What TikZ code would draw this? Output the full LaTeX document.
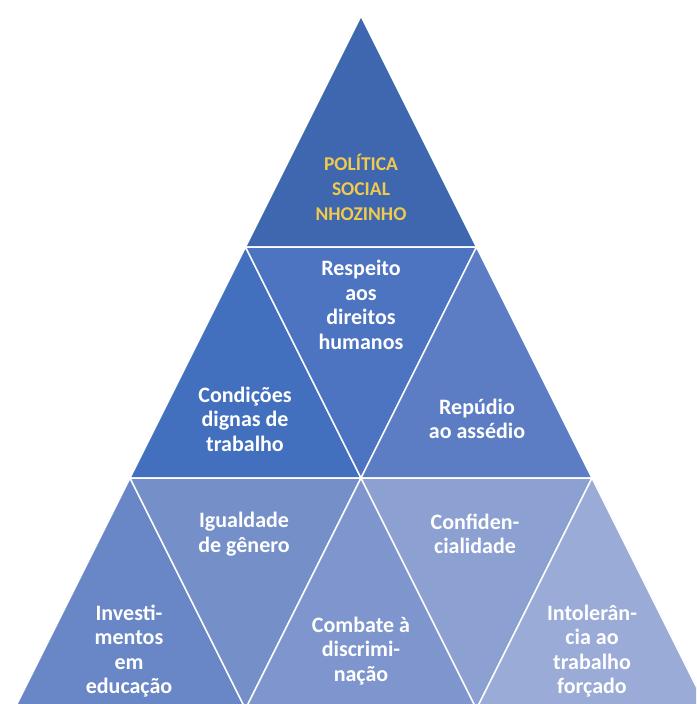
\documentclass[tikz,border=0pt]{standalone}
\usepackage{fontspec}
\setmainfont{Carlito}
\usetikzlibrary{positioning}
\definecolor{toptri}{RGB}{62,103,176}
\definecolor{condtri}{RGB}{66,111,190}
\definecolor{resptri}{RGB}{77,116,192}
\definecolor{repdtri}{RGB}{92,125,196}
\definecolor{invtri}{RGB}{105,135,199}
\definecolor{iguatri}{RGB}{117,143,201}
\definecolor{combtri}{RGB}{126,150,205}
\definecolor{conftri}{RGB}{140,160,210}
\definecolor{intotri}{RGB}{154,171,215}
\definecolor{titleyellow}{RGB}{240,202,76}
\tikzset
{
	tri/.style   = {draw=white, line width=1.5pt, line join=round},
	lbl/.style   = {align=center, text=white, font=\bfseries\fontsize{22}{24.5}\selectfont},
	title/.style = {align=center, text=titleyellow, font=\bfseries\fontsize{19.5}{25}\selectfont}
}

\begin{document}
\begin{tikzpicture}[x=1pt, y=-1pt]
\useasboundingbox (0,0) rectangle (696,704);
\clip (0,0) rectangle (696,704);
\coordinate (a0) at (361,16);
\foreach \r/\n in {1/b,2/c,3/d}
{
  \foreach \i in {0,...,\r}
  {
    \coordinate (\n\i) at ({361+115.5*(2*\i-\r)},{16+231*\r});
  }
}
\filldraw[tri, fill=toptri]  (a0) -- (b0) -- (b1) -- cycle;
\filldraw[tri, fill=condtri] (b0) -- (c0) -- (c1) -- cycle;
\filldraw[tri, fill=resptri] (b0) -- (b1) -- (c1) -- cycle;
\filldraw[tri, fill=repdtri] (b1) -- (c1) -- (c2) -- cycle;
\filldraw[tri, fill=invtri]  (c0) -- (d0) -- (d1) -- cycle;
\filldraw[tri, fill=iguatri] (c0) -- (c1) -- (d1) -- cycle;
\filldraw[tri, fill=combtri] (c1) -- (d1) -- (d2) -- cycle;
\filldraw[tri, fill=conftri] (c1) -- (c2) -- (d2) -- cycle;
\filldraw[tri, fill=intotri] (c2) -- (d2) -- (d3) -- cycle;

\node[title] (politica) at (361,187) {POLÍTICA\\SOCIAL\\NHOZINHO};
\node[lbl] (respeito)  at (361,305) {Respeito\\aos\\direitos\\humanos};
\node[lbl] (condicoes) at (245,419) {Condições\\dignas de\\trabalho};
\node[lbl] (repudio)   at (477,419) {Repúdio\\ao assédio};
\node[lbl] (igualdade) at (244,534) {Igualdade\\de gênero};
\node[lbl] (confid)    at (475,534) {Confiden-\\cialidade};
\node[lbl] (investim)  at (129,651) {Investi-\\mentos\\em\\educação};
\node[lbl] (combate)   at (361,651) {Combate à\\discrimi-\\nação};
\node[lbl] (intoler)   at (592,651) {Intolerân-\\cia ao\\trabalho\\forçado};
\end{tikzpicture}
\end{document}
